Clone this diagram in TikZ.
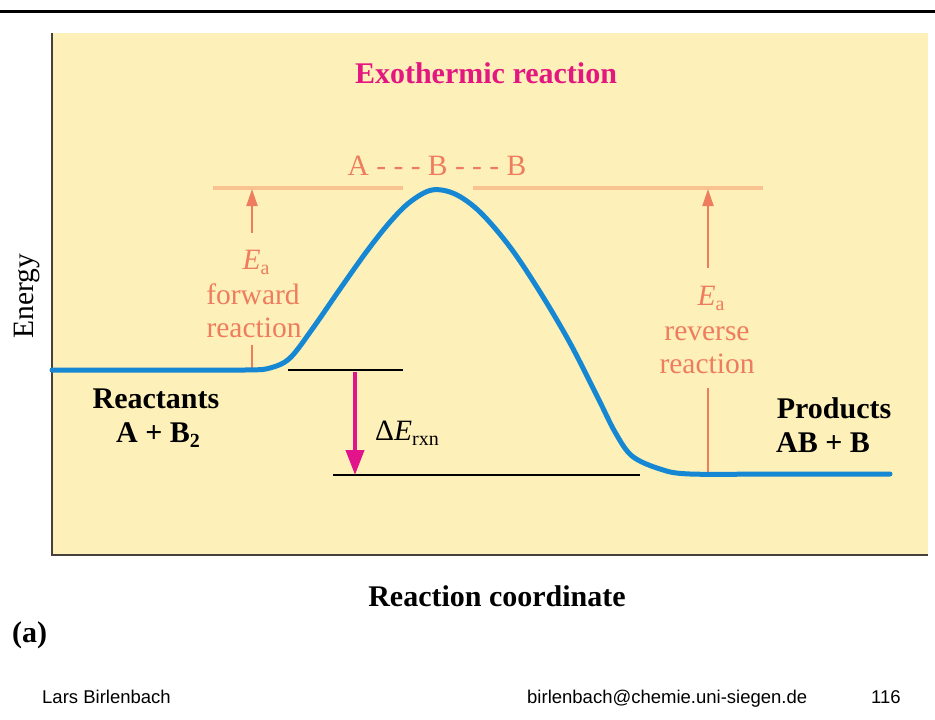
\documentclass[tikz,border=0pt]{standalone}
\usepackage{fontspec}
\setmainfont{Liberation Serif}
\newfontfamily\footfont{Liberation Sans}
\usetikzlibrary{arrows.meta}
\definecolor{bgyellow}{RGB}{253,240,184}
\definecolor{axisgray}{RGB}{70,65,60}
\definecolor{titlemag}{RGB}{228,22,128}
\definecolor{salmon}{RGB}{238,125,95}
\definecolor{levelor}{RGB}{248,195,145}
\definecolor{curveblue}{RGB}{22,135,210}
\definecolor{arrowmag}{RGB}{225,20,140}
\newcommand\mysub[1]{\raisebox{-0.18em}{\fontsize{20}{20}\selectfont #1}}
\begin{document}
\begin{tikzpicture}[x=1pt,y=-1pt,
  lbl/.style={inner sep=0pt, anchor=base, font=\fontsize{29.5}{33}\selectfont},
  blbl/.style={inner sep=0pt, anchor=base, font=\fontsize{30}{33}\selectfont\bfseries},
  foot/.style={inner sep=0pt, anchor=base west, font=\fontsize{18.5}{20}\selectfont\footfont},
  level/.style={levelor, line width=4pt},
  blackline/.style={black, line width=2pt},
  eaarrow/.style={salmon, line width=2pt},
  eatip/.style={-{Triangle[length=17pt,width=11pt]}}
]
\useasboundingbox (0,0) rectangle (935,720);
\fill[white] (0,0) rectangle (935,720);
\draw[line width=3pt] (0,11) -- (935,11);
\fill[bgyellow] (52,33) rectangle (928,555);
\draw[axisgray, line width=1.8pt] (52,33) -- (52,555) -- (928,555);

% title
\node[blbl, titlemag] (title) at (486,83) {Exothermic reaction};
\node[lbl, salmon] (ts) at (437,175) {A - - - B - - - B};

% activation level lines
\coordinate (lvlA) at (213,188);
\coordinate (lvlB) at (403,188);
\coordinate (lvlC) at (473,188);
\coordinate (lvlD) at (763,188);
\draw[level] (lvlA) -- (lvlB);
\draw[level] (lvlC) -- (lvlD);

% black reference lines
\coordinate (rA) at (288,370);
\coordinate (rB) at (403,370);
\coordinate (pA) at (333,475);
\coordinate (pB) at (640,475);
\draw[blackline] (rA) -- (rB);
\draw[blackline] (pA) -- (pB);

% forward Ea arrow
\coordinate (fTop) at (252,189);
\coordinate (fMid) at (252,233);
\coordinate (fLow) at (252,345);
\coordinate (fBot) at (252,369);
\draw[eaarrow, eatip] (fMid) -- (fTop);
\draw[salmon, line width=1.5pt] (fLow) -- (fBot);
\node[lbl, salmon] (fEa) at (256,269) {\textit{E}\mysub{a}};
\node[lbl, salmon] (fw) at (253,304) {forward};
\node[lbl, salmon] (fr) at (254,337) {reaction};

% reverse Ea arrow
\coordinate (rTop) at (708,189);
\coordinate (rMid) at (708,268);
\coordinate (rLow) at (708,388);
\coordinate (rBot) at (708,473);
\draw[eaarrow, eatip] (rMid) -- (rTop);
\draw[salmon, line width=1.5pt] (rLow) -- (rBot);
\node[lbl, salmon] (rEa) at (711,305) {\textit{E}\mysub{a}};
\node[lbl, salmon] (rv) at (707,340) {reverse};
\node[lbl, salmon] (rr) at (707,373) {reaction};

% energy curve
\draw[curveblue, line width=5pt, line cap=round, line join=round]
  plot[smooth, tension=0.55] coordinates {
    (52,370) (150,370) (245,370) (270,368) (290,358) (313,328) (340,289)
    (367,251) (390,222) (410,202) (432,190) (455,194) (480,212) (510,247)
    (540,292) (570,343) (598,398) (615,432) (632,456) (660,469) (690,474)
    (780,474) (890,474)};

% delta E arrow
\coordinate (dTop) at (355,372);
\coordinate (dBot) at (355,475);
\draw[arrowmag, line width=4pt, -{Triangle[length=25pt,width=18pt]}] (dTop) -- (dBot);
\node[lbl, anchor=base west] (dE) at (375,440) {Δ\textit{E}\mysub{rxn}};

% reactants / products
\node[blbl] (react) at (156,408) {Reactants};
\node[blbl] (reactf) at (158,442) {A + B\mysub{\bfseries 2}};
\node[blbl] (prod) at (834,418) {Products};
\node[blbl] (prodf) at (823,452) {AB + B};

% axes labels
\node[lbl, rotate=90] (energy) at (34,296) {Energy};
\node[blbl] (xlab) at (497,606) {Reaction coordinate};
\node[blbl, anchor=base west] (panel) at (12,642) {(a)};

% footer
\node[foot] (author) at (42,703) {Lars Birlenbach};
\node[foot] (mail) at (527,703) {birlenbach@chemie.uni-siegen.de};
\node[foot] (page) at (871,703) {116};
\end{tikzpicture}
\end{document}
